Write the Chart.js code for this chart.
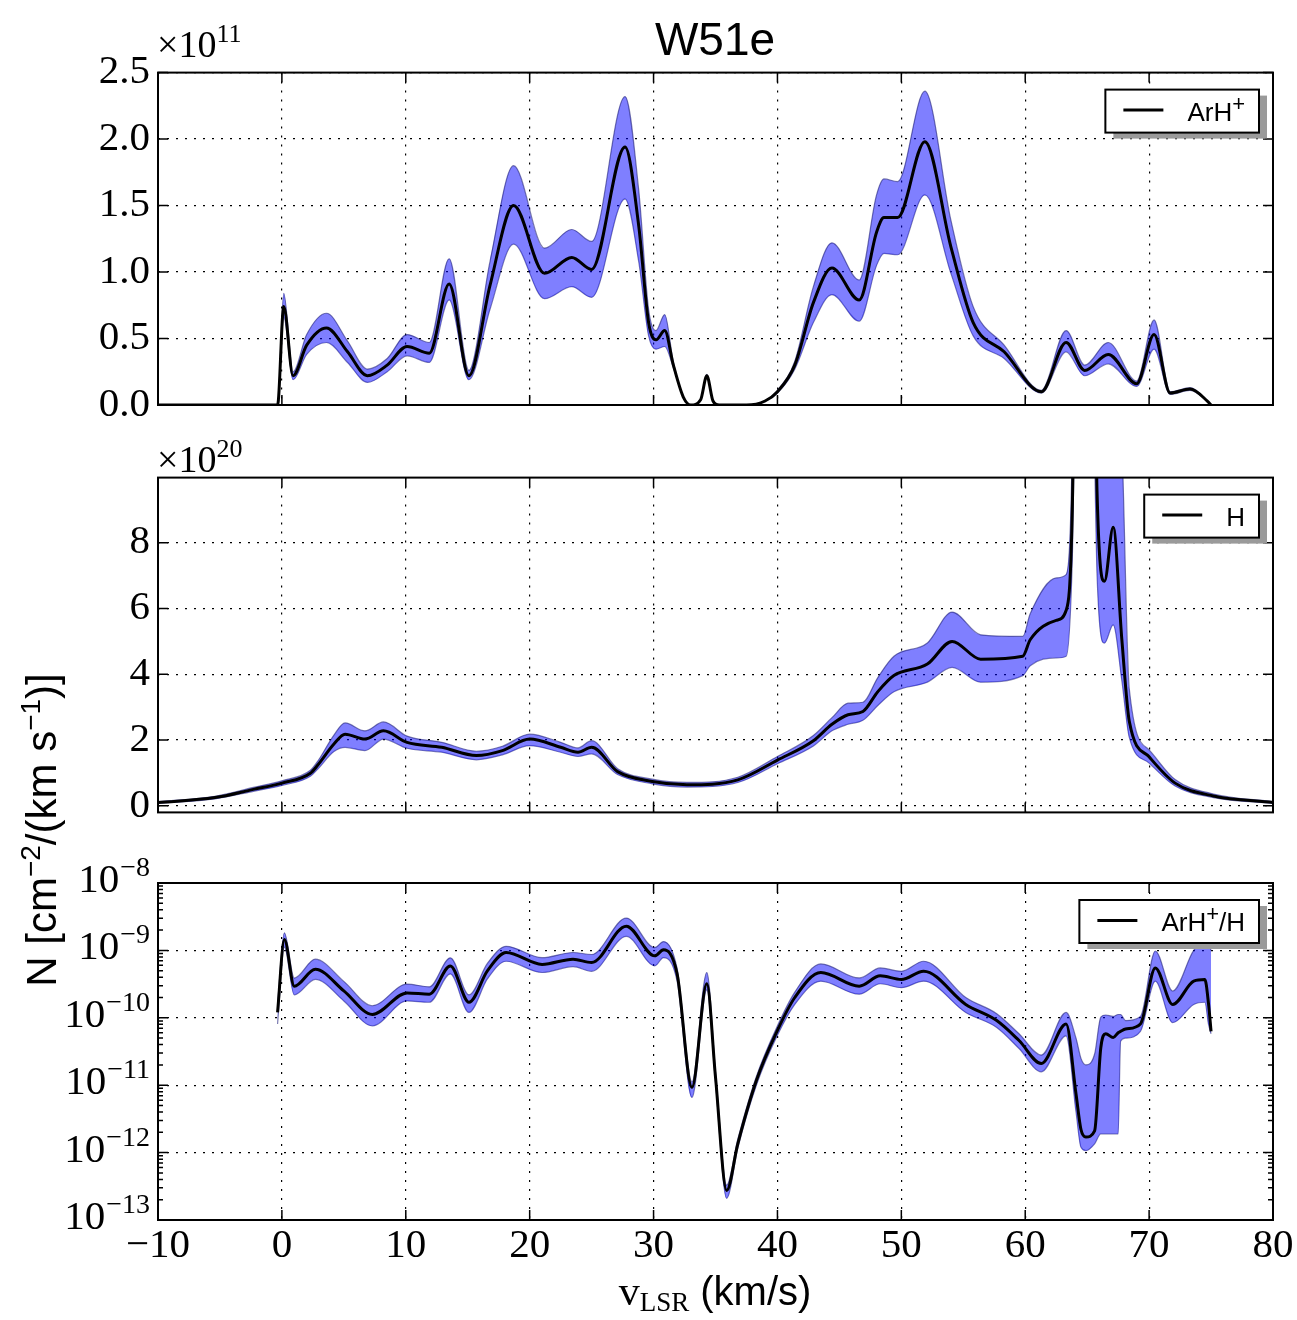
<!DOCTYPE html>
<html>
<head>
<meta charset="utf-8">
<script src="https://cdn.jsdelivr.net/npm/chart.js@4"></script>
<style>
  body { margin: 0; background: #fff; }
  #page { position: relative; width: 1297px; height: 1320px; overflow: hidden; background: #fff; }
  .panel { position: absolute; left: 0; width: 1297px; }
  .txt { position: absolute; white-space: nowrap; color: #000; z-index: 5; }
  .sans { font-family: 'Liberation Sans', Arial, sans-serif; }
  .serif { font-family: 'Liberation Serif', 'Times New Roman', serif; }
  sup, sub { line-height: 0; }
</style>
</head>
<body>
<div id="page">
  <div class="panel" style="top:40px;height:400px"><canvas id="c1" width="1297" height="400"></canvas></div>
  <div class="panel" style="top:445px;height:400px"><canvas id="c2" width="1297" height="400"></canvas></div>
  <div class="panel" style="top:853px;height:467px"><canvas id="c3" width="1297" height="467"></canvas></div>

  <div class="txt sans" style="left:415px;width:600px;text-align:center;top:16px;font-size:46px;line-height:46px">W51e</div>
  <div class="txt serif" style="left:157px;top:25px;font-size:38px;line-height:38px">&times;10<sup style="font-size:26px;vertical-align:15px">11</sup></div>
  <div class="txt serif" style="left:157px;top:440px;font-size:38px;line-height:38px">&times;10<sup style="font-size:26px;vertical-align:15px">20</sup></div>
  <div class="txt sans" style="left:-208px;width:500px;height:44px;text-align:center;top:808px;font-size:42px;line-height:44px;transform:rotate(-90deg)">N [cm<sup style="font-size:28px;vertical-align:16px">&minus;2</sup>/(km s<sup style="font-size:28px;vertical-align:16px">&minus;1</sup>)]</div>
  <div class="txt sans" style="left:415px;width:600px;text-align:center;top:1271px;font-size:40px;line-height:40px"><span class="serif" style="font-size:42px">v<sub style="font-size:27px;vertical-align:-6px">LSR</sub></span> (km/s)</div>
</div>

<script>
// tick positions
const xTicks = [-10, 0, 10, 20, 30, 40, 50, 60, 70, 80];
const arhTicks = [0, 0.5, 1.0, 1.5, 2.0, 2.5];
const hTicks = [0, 2, 4, 6, 8];
const ratioTicks = [1e-13, 1e-12, 1e-11, 1e-10, 1e-9, 1e-8];
const minorSteps = [2, 3, 4, 5, 6, 7, 8, 9];

// ArH+ column density per velocity (units of 1e11)
const arhV = [-10, -0.35, 0.15, 0.9, 2.0, 3.6, 5.3, 6.9, 8.5, 10.1, 11.9, 13.5, 15.1, 16.8, 18.7, 21.2, 23.4, 25.0, 27.7, 28.8, 29.6, 30.2, 30.9, 31.6, 32.4, 33.0, 33.8, 34.3, 34.8, 35.3, 37.5, 39.0, 40.0, 41.4, 42.9, 44.4, 46.6, 48.0, 48.6, 49.7, 51.9, 54.0, 55.8, 58.3, 61.3, 63.3, 64.8, 66.7, 69.0, 70.4, 71.7, 73.3, 74.7, 75.0];
const arhMid = [0, 0, 0.74, 0.22, 0.45, 0.58, 0.40, 0.22, 0.30, 0.44, 0.39, 0.91, 0.22, 0.90, 1.50, 0.99, 1.11, 1.02, 1.94, 1.35, 0.62, 0.49, 0.56, 0.30, 0.06, 0, 0.04, 0.22, 0.03, 0, 0, 0.03, 0.10, 0.30, 0.77, 1.03, 0.79, 1.30, 1.41, 1.41, 1.98, 1.19, 0.62, 0.40, 0.10, 0.47, 0.26, 0.38, 0.16, 0.53, 0.09, 0.12, 0.03, 0];
const arhLo = [0, 0, 0.66, 0.19, 0.38, 0.47, 0.32, 0.17, 0.25, 0.37, 0.32, 0.79, 0.19, 0.72, 1.21, 0.80, 0.89, 0.81, 1.55, 1.08, 0.52, 0.42, 0.44, 0.28, 0.06, 0, 0.04, 0.21, 0.03, 0, 0, 0.03, 0.09, 0.27, 0.62, 0.83, 0.63, 1.05, 1.14, 1.13, 1.58, 0.99, 0.52, 0.35, 0.09, 0.40, 0.22, 0.31, 0.14, 0.42, 0.08, 0.11, 0.03, 0];
const arhHi = [0, 0, 0.84, 0.25, 0.53, 0.69, 0.48, 0.27, 0.35, 0.53, 0.47, 1.10, 0.26, 1.08, 1.80, 1.18, 1.32, 1.23, 2.32, 1.62, 0.72, 0.56, 0.68, 0.32, 0.06, 0, 0.04, 0.23, 0.03, 0, 0, 0.03, 0.11, 0.33, 0.89, 1.22, 0.94, 1.58, 1.70, 1.68, 2.36, 1.39, 0.74, 0.45, 0.11, 0.56, 0.30, 0.47, 0.18, 0.64, 0.10, 0.13, 0.03, 0];

// H column density (units of 1e20)
const hV = [-10, -5.4, -2.3, 0, 2.3, 2.9, 4.2, 5.1, 6.7, 8.2, 10.1, 12.9, 15.7, 17.8, 20.0, 22.5, 23.9, 25.0, 27.1, 29.9, 32.7, 36.8, 40.0, 42.9, 44.4, 45.7, 46.9, 48.1, 49.4, 52.1, 54.1, 56.4, 59.8, 60.4, 62.5, 63.3, 63.8, 64.2, 65.4, 65.8, 66.4, 67.1, 67.8, 68.4, 70.0, 72.1, 75.2, 80];
const hMid = [0.10, 0.25, 0.50, 0.69, 0.99, 1.24, 1.88, 2.18, 2.03, 2.28, 1.93, 1.78, 1.53, 1.68, 2.03, 1.78, 1.63, 1.78, 1.04, 0.74, 0.64, 0.79, 1.39, 1.98, 2.48, 2.77, 2.87, 3.47, 3.96, 4.31, 5.00, 4.46, 4.55, 5.05, 5.64, 5.94, 9.0, 20, 20, 9.5, 6.83, 8.47, 5.05, 2.57, 1.49, 0.69, 0.30, 0.10];
const hLo = [0.07, 0.21, 0.44, 0.62, 0.90, 1.12, 1.65, 1.78, 1.68, 2.03, 1.75, 1.63, 1.40, 1.55, 1.83, 1.63, 1.50, 1.58, 0.95, 0.67, 0.57, 0.71, 1.28, 1.82, 2.28, 2.48, 2.60, 3.05, 3.47, 3.76, 4.21, 3.76, 3.96, 4.26, 4.50, 4.55, 7.5, 16, 14, 7.0, 4.95, 5.5, 3.8, 2.08, 1.30, 0.60, 0.25, 0.07];
const hHi = [0.13, 0.29, 0.56, 0.76, 1.08, 1.36, 2.15, 2.52, 2.28, 2.55, 2.12, 1.93, 1.66, 1.81, 2.18, 1.93, 1.76, 1.98, 1.13, 0.81, 0.71, 0.87, 1.50, 2.14, 2.68, 3.12, 3.15, 3.90, 4.55, 4.95, 5.89, 5.20, 5.15, 5.84, 6.93, 7.03, 11, 25, 25, 15, 14, 14, 11, 3.56, 1.70, 0.80, 0.36, 0.13];

// ArH+/H abundance ratio
const ratV = [-0.35, 0.2, 1.0, 2.7, 5.0, 7.3, 10.1, 11.9, 13.6, 15.1, 16.6, 18.1, 21.0, 23.5, 25.0, 27.8, 30.1, 30.8, 31.9, 33.1, 34.3, 35.0, 35.9, 36.8, 38.3, 40.0, 41.4, 43.5, 46.6, 48.3, 50.0, 51.8, 55.2, 57.7, 59.5, 61.3, 63.3, 64.1, 64.5, 64.9, 65.6, 66.1, 66.5, 67.1, 67.5, 67.7, 68.1, 69.3, 70.5, 71.9, 73.6, 74.5, 74.8, 75.0];
const ratMid = [1.2e-10, 1.45e-9, 2.95e-10, 5.25e-10, 2.51e-10, 1.12e-10, 2.34e-10, 2.24e-10, 5.89e-10, 1.70e-10, 5.0e-10, 9.3e-10, 6.2e-10, 7.4e-10, 6.6e-10, 2.29e-9, 8.3e-10, 1.02e-9, 4.5e-10, 9.3e-12, 3.2e-10, 1.32e-11, 2.75e-13, 1.35e-12, 1.17e-11, 6.5e-11, 2.0e-10, 4.7e-10, 2.95e-10, 4.2e-10, 3.7e-10, 4.9e-10, 1.58e-10, 9.1e-11, 4.6e-11, 2.1e-11, 8.1e-11, 7.4e-12, 2.2e-12, 1.7e-12, 2.1e-12, 3.6e-11, 5.8e-11, 5.1e-11, 6.0e-11, 6.3e-11, 6.8e-11, 8.1e-11, 5.5e-10, 1.58e-10, 3.5e-10, 3.7e-10, 1.58e-10, 6.3e-11];
const ratLo = [8.1e-11, 1.12e-9, 2.19e-10, 3.72e-10, 1.78e-10, 7.6e-11, 1.78e-10, 1.70e-10, 4.47e-10, 1.20e-10, 3.8e-10, 6.9e-10, 4.7e-10, 5.75e-10, 4.9e-10, 1.62e-9, 5.9e-10, 7.8e-10, 3.5e-10, 6.6e-12, 2.6e-10, 1.12e-11, 2.1e-13, 1.17e-12, 1.0e-11, 5.5e-11, 1.58e-10, 3.5e-10, 2.24e-10, 3.2e-10, 2.8e-10, 3.5e-10, 1.20e-10, 7.2e-11, 3.5e-11, 1.58e-11, 5.4e-11, 4.0e-12, 1.2e-12, 1.07e-12, 1.35e-12, 1.9e-12, 1.9e-12, 1.9e-12, 1.9e-12, 4.5e-11, 5.0e-11, 6.3e-11, 3.5e-10, 8.5e-11, 1.58e-10, 1.7e-10, 7.9e-11, 5.8e-11];
const ratHi = [1.6e-10, 1.82e-9, 3.89e-10, 7.41e-10, 3.47e-10, 1.51e-10, 3.16e-10, 2.88e-10, 7.76e-10, 2.19e-10, 6.46e-10, 1.15e-9, 7.8e-10, 9.3e-10, 8.7e-10, 3.02e-9, 1.10e-9, 1.35e-9, 5.4e-10, 1.12e-11, 4.7e-10, 1.58e-11, 3.3e-13, 1.58e-12, 1.35e-11, 7.6e-11, 2.4e-10, 6.3e-10, 3.9e-10, 5.5e-10, 4.9e-10, 6.9e-10, 2.0e-10, 1.15e-10, 5.8e-11, 2.8e-11, 1.2e-10, 5.0e-11, 2.5e-11, 2.0e-11, 2.9e-11, 1.02e-10, 1.1e-10, 1.05e-10, 1.12e-10, 1.12e-10, 9.1e-11, 1.05e-10, 9.8e-10, 2.5e-10, 1.0e-9, 1.38e-9, 1.26e-9, 1.0e-9];

Chart.defaults.font.family = "'Liberation Serif', 'Times New Roman', serif";
Chart.defaults.font.size = 41;
Chart.defaults.color = '#000';
Chart.defaults.animation = false;

const SANS = "'Liberation Sans', Arial, sans-serif";
const SERIF = "'Liberation Serif', 'Times New Roman', serif";

function isDecade(v) {
  const l = Math.log10(v);
  return Math.abs(l - Math.round(l)) < 1e-6;
}

function minus(v) {
  return v < 0 ? '\u2212' + Math.abs(v) : String(v);
}

// matplotlib-like frame, inward ticks, log labels and shadowed legend
const mplFrame = {
  id: 'mplFrame',
  afterDraw(chart, args, opts) {
    const { ctx, chartArea: a, scales } = chart;
    ctx.save();
    ctx.strokeStyle = '#000';
    ctx.lineWidth = 1.5;
    ctx.beginPath();
    scales.x.ticks.forEach(t => {
      const px = scales.x.getPixelForValue(t.value);
      ctx.moveTo(px, a.top); ctx.lineTo(px, a.top + 10);
      ctx.moveTo(px, a.bottom); ctx.lineTo(px, a.bottom - 10);
    });
    scales.y.ticks.forEach(t => {
      const py = scales.y.getPixelForValue(t.value);
      const len = (opts.log && !isDecade(t.value)) ? 5 : 10;
      ctx.moveTo(a.left, py); ctx.lineTo(a.left + len, py);
      ctx.moveTo(a.right, py); ctx.lineTo(a.right - len, py);
    });
    ctx.stroke();

    ctx.lineWidth = 2;
    ctx.strokeRect(a.left, a.top, a.width, a.height);

    // log axis labels 10^n
    if (opts.log) {
      ctx.fillStyle = '#000';
      ctx.textBaseline = 'alphabetic';
      ctx.textAlign = 'left';
      scales.y.ticks.forEach(t => {
        if (!isDecade(t.value)) return;
        const py = scales.y.getPixelForValue(t.value);
        const ex = '\u2212' + Math.abs(Math.round(Math.log10(t.value)));
        ctx.font = '28px ' + SERIF;
        const ew = ctx.measureText(ex).width;
        ctx.font = '41px ' + SERIF;
        const bw = ctx.measureText('10').width;
        const right = a.left - 8;
        ctx.fillText('10', right - ew - bw - 1, py + 9);
        ctx.font = '28px ' + SERIF;
        ctx.fillText(ex, right - ew, py - 7);
      });
    }

    // legend box
    if (opts.legend) {
      const parts = opts.legend;
      let tw = 0;
      parts.forEach(p => {
        ctx.font = (p[1] ? '22px ' : '26px ') + SANS;
        tw += ctx.measureText(p[0]).width;
      });
      const h = 43;
      const w = 18 + 40 + 24 + tw + 14;
      const x0 = a.right - 14 - w;
      const y0 = a.top + 17;
      ctx.fillStyle = '#9a9a9a';
      ctx.fillRect(x0 + 8, y0 + 6, w, h);
      ctx.fillStyle = '#fff';
      ctx.fillRect(x0, y0, w, h);
      ctx.lineWidth = 2;
      ctx.strokeStyle = '#000';
      ctx.strokeRect(x0, y0, w, h);
      ctx.lineWidth = 3;
      ctx.beginPath();
      ctx.moveTo(x0 + 18, y0 + h / 2 - 1);
      ctx.lineTo(x0 + 58, y0 + h / 2 - 1);
      ctx.stroke();
      ctx.fillStyle = '#000';
      ctx.textAlign = 'left';
      ctx.textBaseline = 'alphabetic';
      let tx = x0 + 82;
      parts.forEach(p => {
        ctx.font = (p[1] ? '22px ' : '26px ') + SANS;
        ctx.fillText(p[0], tx, y0 + 31 - (p[1] ? 10 : 0));
        tx += ctx.measureText(p[0]).width;
      });
    }
    ctx.restore();
  }
};

function bandSets(vs, mid, lo, hi) {
  const pts = arr => vs.map((v, i) => ({ x: v, y: arr[i] }));
  const edge = 'rgba(20,20,110,0.55)';
  return [
    { data: pts(mid), borderColor: '#000', borderWidth: 3, pointRadius: 0, fill: false, cubicInterpolationMode: 'monotone' },
    { data: pts(hi), borderColor: edge, borderWidth: 1.2, pointRadius: 0, fill: '+1', backgroundColor: 'rgba(0,0,255,0.5)', cubicInterpolationMode: 'monotone' },
    { data: pts(lo), borderColor: edge, borderWidth: 1.2, pointRadius: 0, fill: false, cubicInterpolationMode: 'monotone' }
  ];
}

function xScale(showLabels, height) {
  return {
    type: 'linear', min: -10, max: 80,
    afterBuildTicks: s => { s.ticks = xTicks.map(v => ({ value: v })); },
    afterFit: s => { s.height = height; },
    grid: { color: '#000', lineWidth: 1.2, drawTicks: false },
    border: { display: false, dash: [2, 7] },
    ticks: { display: showLabels, padding: 2, maxRotation: 0, autoSkip: false, callback: v => minus(v) }
  };
}

function makeChart(id, datasets, yOpts, xOpts, padding, frameOpts) {
  return new Chart(document.getElementById(id), {
    type: 'line',
    data: { datasets },
    options: {
      responsive: false,
      animation: false,
      events: [],
      layout: { padding },
      plugins: { legend: { display: false }, tooltip: { enabled: false }, mplFrame: frameOpts },
      scales: { x: xOpts, y: yOpts }
    },
    plugins: [mplFrame]
  });
}

makeChart('c1', bandSets(arhV, arhMid, arhLo, arhHi), {
  type: 'linear', min: 0, max: 2.5,
  afterBuildTicks: s => { s.ticks = arhTicks.map(v => ({ value: v })); },
  afterFit: s => { s.width = 158; },
  grid: { color: '#000', lineWidth: 1.2, drawTicks: false },
  border: { display: false, dash: [2, 7] },
  ticks: { padding: 8, callback: v => v.toFixed(1) }
}, xScale(false, 0), { top: 30, right: 24, bottom: 35, left: 0 }, { legend: [['ArH', 0], ['+', 1]] });

makeChart('c2', bandSets(hV, hMid, hLo, hHi), {
  type: 'linear', min: -0.2, max: 9.98,
  afterBuildTicks: s => { s.ticks = hTicks.map(v => ({ value: v })); },
  afterFit: s => { s.width = 158; },
  grid: { color: '#000', lineWidth: 1.2, drawTicks: false },
  border: { display: false, dash: [2, 7] },
  ticks: { padding: 8, callback: v => String(v) }
}, xScale(false, 0), { top: 30, right: 24, bottom: 30, left: 0 }, { legend: [['H', 0]] });

makeChart('c3', bandSets(ratV, ratMid, ratLo, ratHi), {
  type: 'logarithmic', min: 1e-13, max: 1e-8,
  afterBuildTicks: s => {
    const t = [];
    ratioTicks.forEach((d, i) => {
      t.push({ value: d });
      if (i < ratioTicks.length - 1) minorSteps.forEach(m => t.push({ value: d * m }));
    });
    s.ticks = t;
  },
  afterFit: s => { s.width = 158; },
  grid: { color: c => (c.tick && isDecade(c.tick.value)) ? '#000' : 'rgba(0,0,0,0)', lineWidth: 1.2, drawTicks: false },
  border: { display: false, dash: [2, 7] },
  ticks: { display: false }
}, xScale(true, 100), { top: 30, right: 24, bottom: 0, left: 0 }, { log: true, legend: [['ArH', 0], ['+', 1], ['/H', 0]] });
</script>
</body>
</html>
